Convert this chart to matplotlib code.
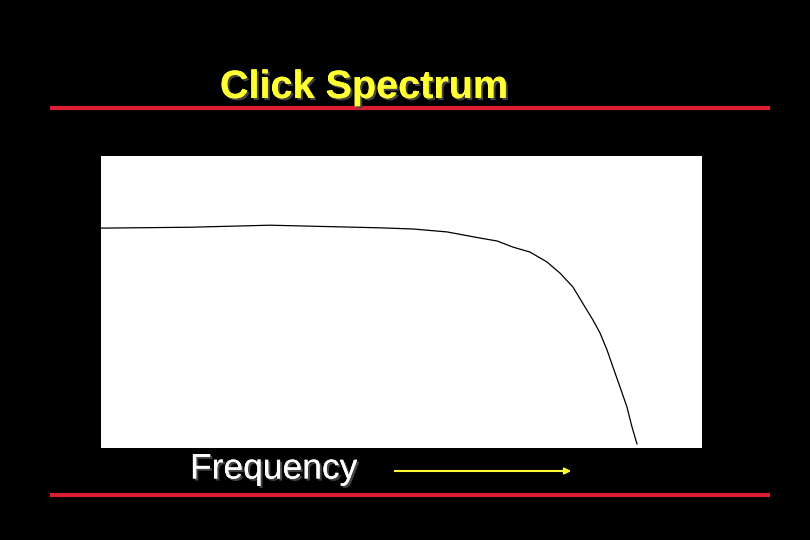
import numpy as np
import matplotlib
matplotlib.use("Agg")
import matplotlib.pyplot as plt
import matplotlib.patheffects as pe

# Spectrum curve (arbitrary units)
freq = [0, 89, 169, 279, 312, 346, 379, 396, 412, 429, 446, 459, 472, 484, 492,
        499, 506, 512, 519, 526, 531, 536]
level = [75.3, 75.6, 76.3, 75.4, 75.0, 74.0, 71.9, 70.9, 68.8, 67.1, 63.7, 59.9,
         55.1, 48.3, 43.8, 39.4, 33.6, 27.7, 20.9, 14.0, 7.2, 1.4]

title = "Click Spectrum"
xlabel = "Frequency"

plt.rcParams['font.family'] = ['Liberation Sans', 'DejaVu Sans']

fig = plt.figure(figsize=(8.1, 5.4), dpi=100, facecolor='black')

W, H = 810, 540
ax = fig.add_axes([101 / W, (540 - 448) / H, 601 / W, 292 / H])
ax.set_facecolor('white')
ax.plot(freq, level, color='black', lw=0.9)
ax.set_xlim(0, 601)
ax.set_ylim(0, 100)
ax.set_xticks([])
ax.set_yticks([])
for s in ax.spines.values():
    s.set_visible(False)

# red rules
for yy in (108, 495):
    fig.add_artist(plt.Line2D([52 / W, 768 / W], [1 - yy / H, 1 - yy / H],
                              color='#dc1e32', lw=3))

shadow = [pe.withSimplePatchShadow(offset=(1.5, -1.5), shadow_rgbFace='#444444', alpha=1), pe.Normal()]
fig.text(364 / W, 1 - 87 / H, title, color='#ffff33', fontsize=28.5, fontweight='bold',
         ha='center', va='center', path_effects=shadow)
fig.text(190 / W, 1 - 469 / H, xlabel, color='white', fontsize=25.5,
         ha='left', va='center', path_effects=shadow)
fig.add_artist(matplotlib.patches.FancyArrowPatch((392 / W, 1 - 471 / H), (574 / W, 1 - 471 / H),
                                                  transform=fig.transFigure, arrowstyle='-|>',
                                                  mutation_scale=9, color='#ffff33', lw=1.5))

fig.savefig('out.png', dpi=100, facecolor='black')
